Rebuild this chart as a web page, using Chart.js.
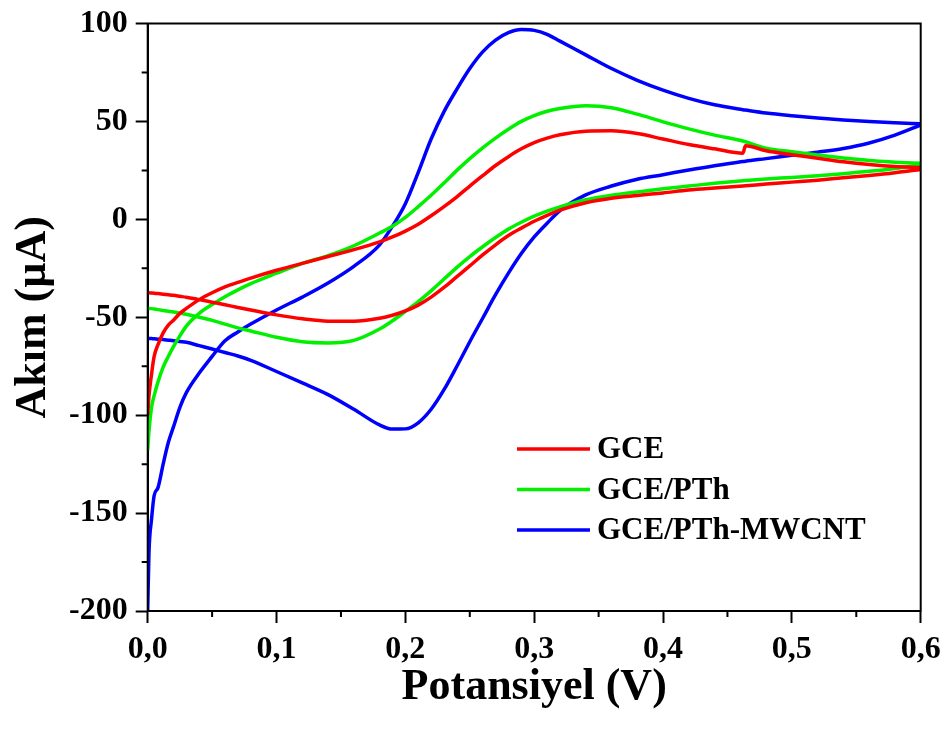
<!DOCTYPE html>
<html lang="tr">
<head>
  <meta charset="UTF-8">
  <title>Akım - Potansiyel</title>
  <style>
    html, body { margin:0; padding:0; background:#fff; }
    #wrap { width:946px; height:731px; }
  </style>
</head>
<body>
  <div id="wrap"><canvas id="cvChart" width="946" height="731"></canvas></div>
  <script src="https://cdn.jsdelivr.net/npm/chart.js"></script>
  <script>
    // potansiyel (V) - her iki dal icin ortak nokta listesi
    const potential = [0, 0.001, 0.003, 0.005, 0.008, 0.012, 0.016, 0.02, 0.025, 0.03,
      0.04, 0.05, 0.06, 0.07, 0.08, 0.1, 0.12, 0.14, 0.16, 0.18,
      0.19, 0.2, 0.21, 0.22, 0.23, 0.24, 0.25, 0.26, 0.27, 0.28,
      0.29, 0.3, 0.31, 0.32, 0.34, 0.36, 0.38, 0.4, 0.42, 0.44,
      0.462, 0.464, 0.48, 0.5, 0.52, 0.54, 0.56, 0.58, 0.6];

    // akim (uA) - anodik (ileri) ve katodik (geri) taramalar
    const gceAnodic = [-100, -90, -79, -70, -64, -58, -54, -51.5, -48, -45.5,
      -41, -37.5, -34.5, -32.2, -30, -26, -22.5, -19, -15.5, -11.5,
      -9, -6, -2.5, 1.8, 6.5, 11.5, 17, 22.3, 27.5, 32,
      36, 39.2, 41.5, 43.2, 45, 45.2, 43.8, 41, 38.2, 36,
      33.8, 37.6, 35, 33, 31.2, 29.4, 28, 27, 26.5];
    const gceCathodic = [-37.5, -37.5, -37.6, -37.7, -37.9, -38.2, -38.5, -38.8, -39.3, -39.8,
      -41, -42.3, -43.6, -45, -46.3, -48.8, -50.8, -52, -52, -50.5,
      -49, -46.8, -43.8, -39.7, -34.8, -29.3, -23.8, -18.2, -13, -8.3,
      -4.5, -1, 2, 4.7, 8.5, 10.8, 12.2, 13.5, 15, 16,
      17, 17.1, 18, 19, 20, 21.2, 22.4, 23.8, 25.5];

    const pthAnodic = [-118, -108, -96, -90, -83, -75.5, -70, -65, -59.5, -54.5,
      -48, -43.5, -39.5, -36, -32.8, -27.5, -22.5, -18.5, -13.5, -7,
      -3.5, 1, 6.5, 12.3, 18.5, 25, 31, 36.5, 41.5, 46,
      50, 53, 55.2, 56.6, 58, 57, 53.7, 49.8, 46.2, 43,
      40, 39.6, 36.3, 34.5, 32.8, 31.3, 30, 29.2, 28.6];
    const pthCathodic = [-45.5, -45.5, -45.6, -45.8, -46.1, -46.5, -46.9, -47.3, -47.9, -48.5,
      -50, -51.6, -53.5, -55.4, -57, -60.2, -62.5, -63.1, -61.8, -56,
      -51.8, -47, -42, -36.5, -30.5, -24.5, -19, -14, -9.3, -5,
      -1.5, 1.6, 4.2, 6.4, 10, 12.3, 14, 15.6, 17, 18.4,
      19.7, 19.8, 20.6, 21.4, 22.3, 23.3, 24.5, 26, 27.7];

    const mwcntAnodic = [-199.5, -170, -153, -141, -137, -125, -114, -106, -96, -88.5,
      -78.5, -70, -62, -57.5, -53.5, -46.3, -39.7, -32.5, -24, -13,
      -3.5, 8, 24, 41, 55, 66.5, 77, 85.5, 91.5, 95.3,
      96.9, 96.5, 94.5, 91, 84, 77, 71, 66, 61.8, 58.5,
      56, 55.8, 54.3, 52.9, 51.7, 50.7, 49.9, 49.3, 48.8];
    const mwcntCathodic = [-60.8, -60.8, -60.9, -61, -61.2, -61.4, -61.7, -62, -62.4, -62.8,
      -64.5, -66.2, -68, -69.8, -72, -77.7, -83.5, -89.5, -97, -105,
      -107.1, -107, -103.9, -97, -87, -75, -62.5, -50.5, -38.5, -27.5,
      -17.5, -9, -2, 4.5, 12.5, 17, 20.5, 22.8, 25.2, 27.4,
      29.5, 29.7, 31, 32.7, 34.3, 36.2, 39, 43, 48.2];

    const seriesLabels = ['GCE', 'GCE/PTh', 'GCE/PTh-MWCNT'];
    const seriesColors = ['#ff0000', '#00f000', '#0000ff'];
    const xTickLabels = ['0,0', '0,1', '0,2', '0,3', '0,4', '0,5', '0,6'];
    const yTickLabels = ['-200', '-150', '-100', '-50', '0', '50', '100'];

    const serif = '"Liberation Serif", "Times New Roman", serif';
    Chart.defaults.font.family = serif;
    Chart.defaults.color = '#000';

    function mkSet(label, color, values) {
      return {
        label, data: potential.map((p, i) => ({ x: p, y: values[i] })),
        showLine: true, borderColor: color, backgroundColor: color,
        borderWidth: 3.5, pointRadius: 0, cubicInterpolationMode: 'monotone', fill: false
      };
    }

    const branches = [[gceAnodic, gceCathodic], [pthAnodic, pthCathodic], [mwcntAnodic, mwcntCathodic]];
    const datasets = [];
    branches.forEach((b, i) => {
      datasets.push(mkSet(seriesLabels[i], seriesColors[i], b[0]));
      datasets.push(mkSet(seriesLabels[i], seriesColors[i], b[1]));
    });

    // kucuk tikler, cerceve ve grafik ici lejant
    const extras = {
      id: 'extras',
      afterDraw(chart) {
        const { ctx, chartArea: a, scales: { x, y } } = chart;
        ctx.save();
        ctx.strokeStyle = '#000';
        ctx.lineWidth = 2;
        ctx.beginPath();
        for (let v = 0.05; v < 0.6; v += 0.1) {
          const px = x.getPixelForValue(v);
          ctx.moveTo(px, a.bottom); ctx.lineTo(px, a.bottom + 6);
        }
        for (let v = -175; v < 100; v += 50) {
          const py = y.getPixelForValue(v);
          ctx.moveTo(a.left, py); ctx.lineTo(a.left - 6, py);
        }
        ctx.stroke();
        ctx.strokeRect(a.left, a.top, a.right - a.left, a.bottom - a.top);

        ctx.font = 'bold 31px ' + serif;
        ctx.textBaseline = 'middle';
        ctx.fillStyle = '#000';
        seriesLabels.forEach((lbl, i) => {
          const ly = 449 + i * 40.5;
          ctx.strokeStyle = seriesColors[i];
          ctx.lineWidth = 3.5;
          ctx.beginPath(); ctx.moveTo(517, ly); ctx.lineTo(590, ly); ctx.stroke();
          ctx.fillText(lbl, 597, ly + 1);
        });
        ctx.restore();
      }
    };

    const axisGrid = { drawOnChartArea: false, drawTicks: true, tickLength: 12, tickWidth: 2, tickColor: '#000' };
    const tickFont = { size: 32, weight: 'bold' };

    new Chart(document.getElementById('cvChart').getContext('2d'), {
      type: 'scatter',
      data: { datasets },
      options: {
        responsive: false,
        animation: false,
        layout: { padding: { top: 23.5, right: 25.3, left: 0, bottom: 0 } },
        plugins: { legend: { display: false }, tooltip: { enabled: false } },
        scales: {
          x: {
            type: 'linear', min: 0, max: 0.6,
            afterFit(s) { s.height = 120; s.paddingLeft = 0; s.paddingRight = 0; },
            grid: axisGrid,
            border: { display: true, color: '#000', width: 2 },
            ticks: {
              stepSize: 0.1, autoSkip: false, maxRotation: 0, padding: 8, font: tickFont,
              callback: v => xTickLabels[Math.round(v * 10)]
            },
            title: { display: true, text: 'Potansiyel (V)', font: { size: 44, weight: 'bold' }, padding: { top: 4, bottom: 17 } }
          },
          y: {
            min: -200, max: 100,
            afterFit(s) { s.width = 147.7; s.paddingTop = 0; s.paddingBottom = 0; },
            grid: axisGrid,
            border: { display: true, color: '#000', width: 2 },
            ticks: {
              stepSize: 50, autoSkip: false, padding: 8, font: tickFont,
              callback: v => yTickLabels[Math.round((v + 200) / 50)]
            },
            title: { display: true, text: 'Akım (µA)', font: { size: 44, weight: 'bold' }, padding: { top: 7, bottom: 4 } }
          }
        }
      },
      plugins: [extras]
    });
  </script>
</body>
</html>
